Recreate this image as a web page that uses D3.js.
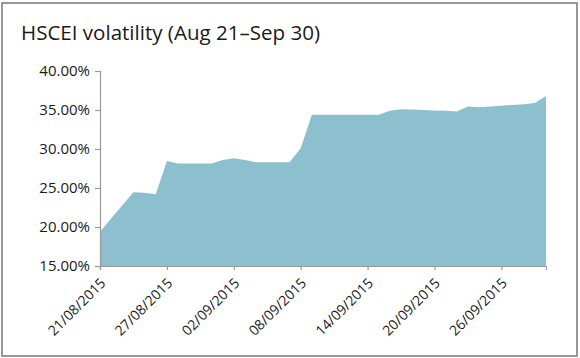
<!DOCTYPE html>
<html>
<head>
<meta charset="utf-8">
<script src="https://cdn.jsdelivr.net/npm/d3@7"></script>
<style>
  html, body { margin: 0; padding: 0; background: #fff; }
  svg { display: block; }
  text { font-family: "Open Sans", "Noto Sans", sans-serif; fill: #1a1a1a; }
</style>
</head>
<body>
<svg id="chart" width="580" height="358"></svg>
<script>
const titleText = "HSCEI volatility (Aug 21\u2013Sep 30)";
const dates = [
  "2015-08-21","2015-08-22","2015-08-23","2015-08-24","2015-08-25","2015-08-26","2015-08-27",
  "2015-08-28","2015-08-29","2015-08-30","2015-08-31","2015-09-01","2015-09-02","2015-09-03",
  "2015-09-04","2015-09-05","2015-09-06","2015-09-07","2015-09-08","2015-09-09","2015-09-10",
  "2015-09-11","2015-09-12","2015-09-13","2015-09-14","2015-09-15","2015-09-16","2015-09-17",
  "2015-09-18","2015-09-19","2015-09-20","2015-09-21","2015-09-22","2015-09-23","2015-09-24",
  "2015-09-25","2015-09-26","2015-09-27","2015-09-28","2015-09-29","2015-09-30"
];
const volatility = [
  19.4, 21.1, 22.8, 24.45, 24.4, 24.2, 28.45,
  28.15, 28.15, 28.15, 28.15, 28.6, 28.8, 28.6,
  28.3, 28.3, 28.3, 28.3, 30.1, 34.4, 34.4,
  34.4, 34.4, 34.4, 34.4, 34.4, 34.9, 35.1,
  35.05, 35.0, 34.95, 34.9, 34.8, 35.45, 35.35,
  35.45, 35.55, 35.65, 35.75, 35.9, 36.8
];
const yTicks = [15, 20, 25, 30, 35, 40];
const xTickDates = ["2015-08-21","2015-08-27","2015-09-02","2015-09-08","2015-09-14","2015-09-20","2015-09-26"];

const parse = d3.timeParse("%Y-%m-%d");
const data = dates.map((d, i) => ({ date: parse(d), value: volatility[i] }));

const svg = d3.select("#chart");

// outer frame
svg.append("rect")
  .attr("x", 2).attr("y", 3).attr("width", 575).attr("height", 353)
  .attr("fill", "none").attr("stroke", "#7f7f7f").attr("stroke-width", 1.6);

// title
svg.append("text")
  .attr("x", 21).attr("y", 39.5)
  .attr("font-size", 20)
  .attr("textLength", 299)
  .attr("lengthAdjust", "spacingAndGlyphs")
  .text(titleText);

const x = d3.scaleTime()
  .domain([parse(dates[0]), parse(dates[dates.length - 1])])
  .range([100, 546]);
const y = d3.scaleLinear().domain([15, 40]).range([266, 71]);

// area
const area = d3.area()
  .x(d => x(d.date))
  .y0(y(15))
  .y1(d => y(d.value))
  .curve(d3.curveLinear);

svg.append("path")
  .datum(data)
  .attr("d", area)
  .attr("fill", "#8cc0cf");

// y axis
const yAxis = svg.append("g")
  .attr("transform", "translate(100,0)")
  .call(d3.axisLeft(y).tickValues(yTicks).tickSize(5).tickPadding(5)
    .tickFormat(d => d.toFixed(2) + "%"));
yAxis.select(".domain").attr("stroke", "#9a9a9a").attr("stroke-width", 1.2);
yAxis.selectAll(".tick line").attr("stroke", "#9a9a9a").attr("stroke-width", 1.2);
yAxis.selectAll(".tick text")
  .attr("font-size", 15)
  .attr("font-family", "'Open Sans', 'Noto Sans', sans-serif")
  .attr("fill", "#1a1a1a");

// x axis
const xAxis = svg.append("g")
  .attr("transform", "translate(0,266)")
  .call(d3.axisBottom(x).tickValues(xTickDates.map(parse)).tickSize(4)
    .tickFormat(d3.timeFormat("%d/%m/%Y")));
xAxis.select(".domain").attr("stroke", "#9a9a9a").attr("stroke-width", 1.2);
xAxis.selectAll(".tick line").attr("stroke", "#9a9a9a").attr("stroke-width", 1.2);
xAxis.selectAll(".tick text")
  .attr("font-size", 14)
  .attr("font-family", "'Open Sans', 'Noto Sans', sans-serif")
  .attr("fill", "#1a1a1a")
  .attr("x", 0).attr("y", 0).attr("dy", 0)
  .attr("text-anchor", "end")
  .attr("transform", "translate(6,18) rotate(-45)");
</script>
</body>
</html>
